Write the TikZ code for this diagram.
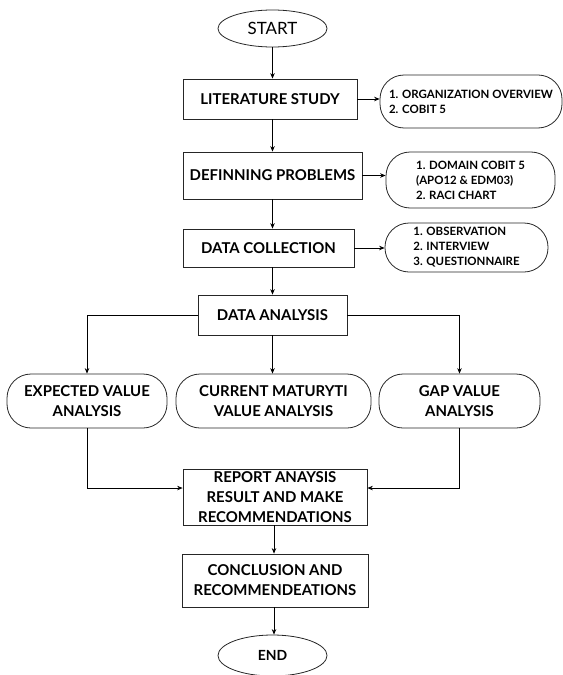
\documentclass[tikz,border=0pt]{standalone}
\usepackage{fontspec}
\setmainfont{Lato}
\usetikzlibrary{shapes.geometric,arrows.meta,calc}
\begin{document}
\begin{tikzpicture}[x=1bp,y=-1bp,
  base/.style={draw=black!85,line width=0.8pt,inner sep=1pt,align=center},
  mainbox/.style={base,rectangle,font=\bfseries\fontsize{15}{20}\selectfont},
  pill/.style={base,rectangle,rounded corners=24bp,font=\bfseries\fontsize{15}{20}\selectfont},
  sidebox/.style={base,rectangle,rounded corners=24bp,align=left,font=\bfseries\fontsize{11.5}{15}\selectfont},
  term/.style={base,ellipse},
  arr/.style={line width=0.7pt,-{Stealth[length=5.5pt,width=4.5pt]}}]
\useasboundingbox (0,0) rectangle (563,675);
\node[term,minimum width=109bp,minimum height=37bp,font=\fontsize{17}{20}\selectfont] (start) at (272.5,28.5) {START};
\node[mainbox,minimum width=174bp,minimum height=40bp] (lit) at (270,99) {LITERATURE STUDY};
\node[sidebox,minimum width=182bp,minimum height=53bp] (o1) at (471,101.5) {1. ORGANIZATION OVERVIEW\\2. COBIT 5};
\node[mainbox,minimum width=179bp,minimum height=47bp] (def) at (272.5,175.5) {DEFINNING PROBLEMS};
\node[sidebox,minimum width=169bp,minimum height=56bp] (o2) at (470.5,180) {1. DOMAIN COBIT 5\\(APO12 \& EDM03)\\2. RACI CHART};
\node[mainbox,minimum width=171bp,minimum height=38bp] (dc) at (268.5,248) {DATA COLLECTION};
\node[sidebox,minimum width=163bp,minimum height=49bp] (o3) at (466.5,247.5) {1. OBSERVATION\\2. INTERVIEW\\3. QUESTIONNAIRE};
\node[mainbox,minimum width=149bp,minimum height=40bp] (da) at (272.5,315) {DATA ANALYSIS};
\node[pill,minimum width=160bp,minimum height=54bp] (exp) at (87,401) {EXPECTED VALUE\\ANALYSIS};
\node[pill,minimum width=195bp,minimum height=54bp] (cur) at (273.5,401) {CURRENT MATURYTI\\VALUE ANALYSIS};
\node[pill,minimum width=161bp,minimum height=54bp] (gap) at (459.5,401) {GAP VALUE\\ANALYSIS};
\node[mainbox,minimum width=184bp,minimum height=56bp] (rep) at (275,497) {REPORT ANAYSIS\\RESULT AND MAKE\\RECOMMENDATIONS};
\node[mainbox,minimum width=186bp,minimum height=53bp] (conc) at (275,580.5) {CONCLUSION AND\\RECOMMENDEATIONS};
\node[term,minimum width=109bp,minimum height=41bp,font=\bfseries\fontsize{14}{16}\selectfont] (end) at (272.5,655.5) {END};
\draw[arr] (start.south) -- (start.south |- lit.north);
\draw[arr] (lit.south -| start.south) -- (def.north -| start.south);
\draw[arr] (def.south -| start.south) -- (dc.north -| start.south);
\draw[arr] (dc.south -| start.south) -- (da.north -| start.south);
\draw[arr] (lit.east) -- (lit.east -| o1.west);
\draw[arr] (def.east) -- (def.east -| o2.west);
\draw[arr] (dc.east) -- (dc.east -| o3.west);
\draw[arr] (da.west) -| (exp.north);
\draw[arr] (da.east) -| (gap.north);
\draw[arr] (da.south) -- (da.south |- cur.north);
\draw[arr] (exp.south) |- ([yshift=9pt]rep.west);
\draw[arr] (gap.south) |- ([yshift=9pt]rep.east);
\draw[arr] ([xshift=-1pt]rep.south) -- ([xshift=-1pt]conc.north);
\draw[arr] ([xshift=-1pt]conc.south) -- ([xshift=-1pt]conc.south |- end.north);
\end{tikzpicture}
\end{document}
